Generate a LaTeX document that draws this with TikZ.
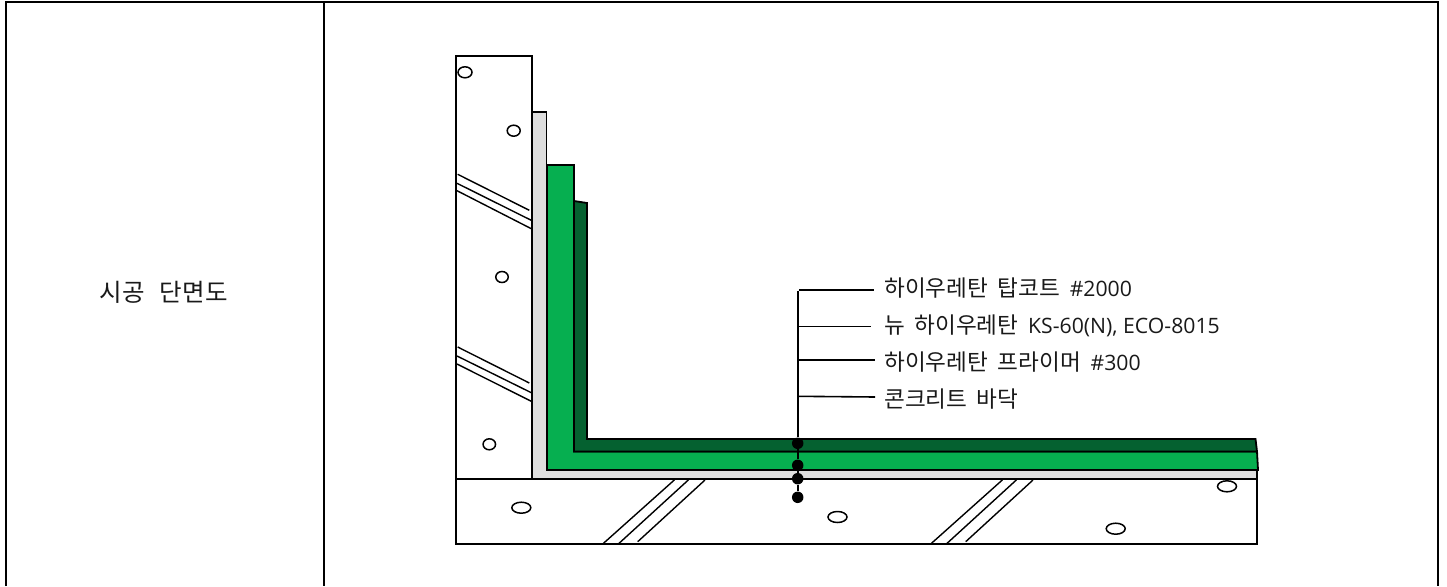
\documentclass[tikz,border=0pt]{standalone}
\usepackage{fontspec}
\setmainfont{Open Sans}
\newfontfamily\kr[WordSpace=1.9]{Noto Sans CJK KR}
\usetikzlibrary{shapes.geometric}
\definecolor{midgreen}{HTML}{06AF50}
\definecolor{darkgreen}{HTML}{056130}
\tikzset{
  x=1pt,y=-1pt,
  frameline/.style={line width=2pt,black},
  part/.style={line width=1.8pt,draw=black},
  hatch/.style={line width=1.4pt,black},
  hole/.style={ellipse,draw=black,line width=1.5pt,fill=white,inner sep=0pt,minimum width=#1,minimum height=11pt},
  dotmark/.style={circle,fill=black,inner sep=0pt,minimum size=11.5pt},
  lbl/.style={anchor=west,inner sep=0pt,font=\fontsize{21.2}{24}\selectfont,text=black!90},
  leader/.style={line width=1.6pt,black}
}
\newcommand{\krtext}[1]{{\kr\fontsize{22.6}{24}\selectfont #1}}
\begin{document}
\begin{tikzpicture}
\useasboundingbox (0,0) rectangle (1447,586);
% table
\draw[frameline] (6,586) -- (6,2) -- (1438,2) -- (1438,586);
\draw[frameline] (324,2) -- (324,586);
\node[inner sep=0pt,text=black!90] (title) at (163.7,292) {{\kr\fontsize{24.5}{26}\selectfont 시공\hspace{15pt}단면도}};
% layers
\draw[part,fill=white] (456,479) rectangle (1257,544);
\draw[part,fill=white] (456,56) rectangle (532,478.5);
\draw[part,fill=black!13] (532,112) -- (546.5,112) -- (546.5,470) -- (1257,470) -- (1257,479) -- (532,479) -- cycle;
\draw[part,fill=midgreen] (547,165) -- (574,165) -- (574,451.5) -- (1257,451.5) -- (1258,470) -- (547,470) -- cycle;
\draw[part,fill=darkgreen] (574,201) -- (587,203) -- (587,439) -- (1255.5,439) -- (1257,451.5) -- (574,451.5) -- cycle;
% wall hatching
\draw[hatch] (457.7,174.3) -- (529.3,210.3);
\draw[hatch] (457,183.3) -- (531.3,220.3);
\draw[hatch] (457,190.7) -- (531.3,228.7);
\draw[hatch] (457.7,347) -- (529.3,383);
\draw[hatch] (457,356) -- (531.3,392.7);
\draw[hatch] (457,364) -- (531.3,401.3);
% floor hatching
\draw[hatch] (674.3,480) -- (602.7,544);
\draw[hatch] (688.3,480) -- (618.3,544);
\draw[hatch] (705,480) -- (637.7,541.7);
\draw[hatch] (1002.3,480) -- (930.7,544);
\draw[hatch] (1016.3,480) -- (946.3,544);
\draw[hatch] (1033,480) -- (965.7,541.7);
% aggregate
\node[hole=14pt] (h1) at (465,72.3) {};
\node[hole=13pt] (h2) at (513.7,130.7) {};
\node[hole=12.5pt] (h3) at (502,277) {};
\node[hole=12.5pt] (h4) at (489.3,444.3) {};
\node[hole=19pt] (h5) at (521.3,507.7) {};
\node[hole=19pt] (h6) at (837.5,517) {};
\node[hole=19pt] (h7) at (1115.7,528.7) {};
\node[hole=19pt] (h8) at (1227,486.3) {};
% leader
\node[dotmark] (d1) at (797.7,443.3) {};
\node[dotmark] (d2) at (797.7,465.3) {};
\node[dotmark] (d3) at (797.7,478.7) {};
\node[dotmark] (d4) at (797.7,497.3) {};
\coordinate (top) at (797.7,290.7);
\coordinate (s1) at (799,290);
\coordinate (s2) at (797.7,326.3);
\coordinate (s3) at (797.7,359.7);
\coordinate (s4) at (797.7,396.3);
\coordinate (e1) at (874,290);
\coordinate (e2) at (871,326.3);
\coordinate (e3) at (875,359.7);
\coordinate (e4) at (875,397);
\draw[leader] (top) -- (d1) -- (d2) -- (d3) -- (d4);
\draw[leader] (s1) -- (e1);
\draw[leader] (s2) -- (e2);
\draw[leader] (s3) -- (e3);
\draw[leader] (s4) -- (e4);
\node[lbl] (l1) at (884,288) {\krtext{하이우레탄 탑코트 }\#2000};
\node[lbl] (l2) at (884,325.5) {\krtext{뉴 하이우레탄 }KS-60(N), ECO-8015};
\node[lbl] (l3) at (884,362.5) {\krtext{하이우레탄 프라이머 }\#300};
\node[lbl] (l4) at (884,399) {\krtext{콘크리트 바닥}};
\end{tikzpicture}
\end{document}
